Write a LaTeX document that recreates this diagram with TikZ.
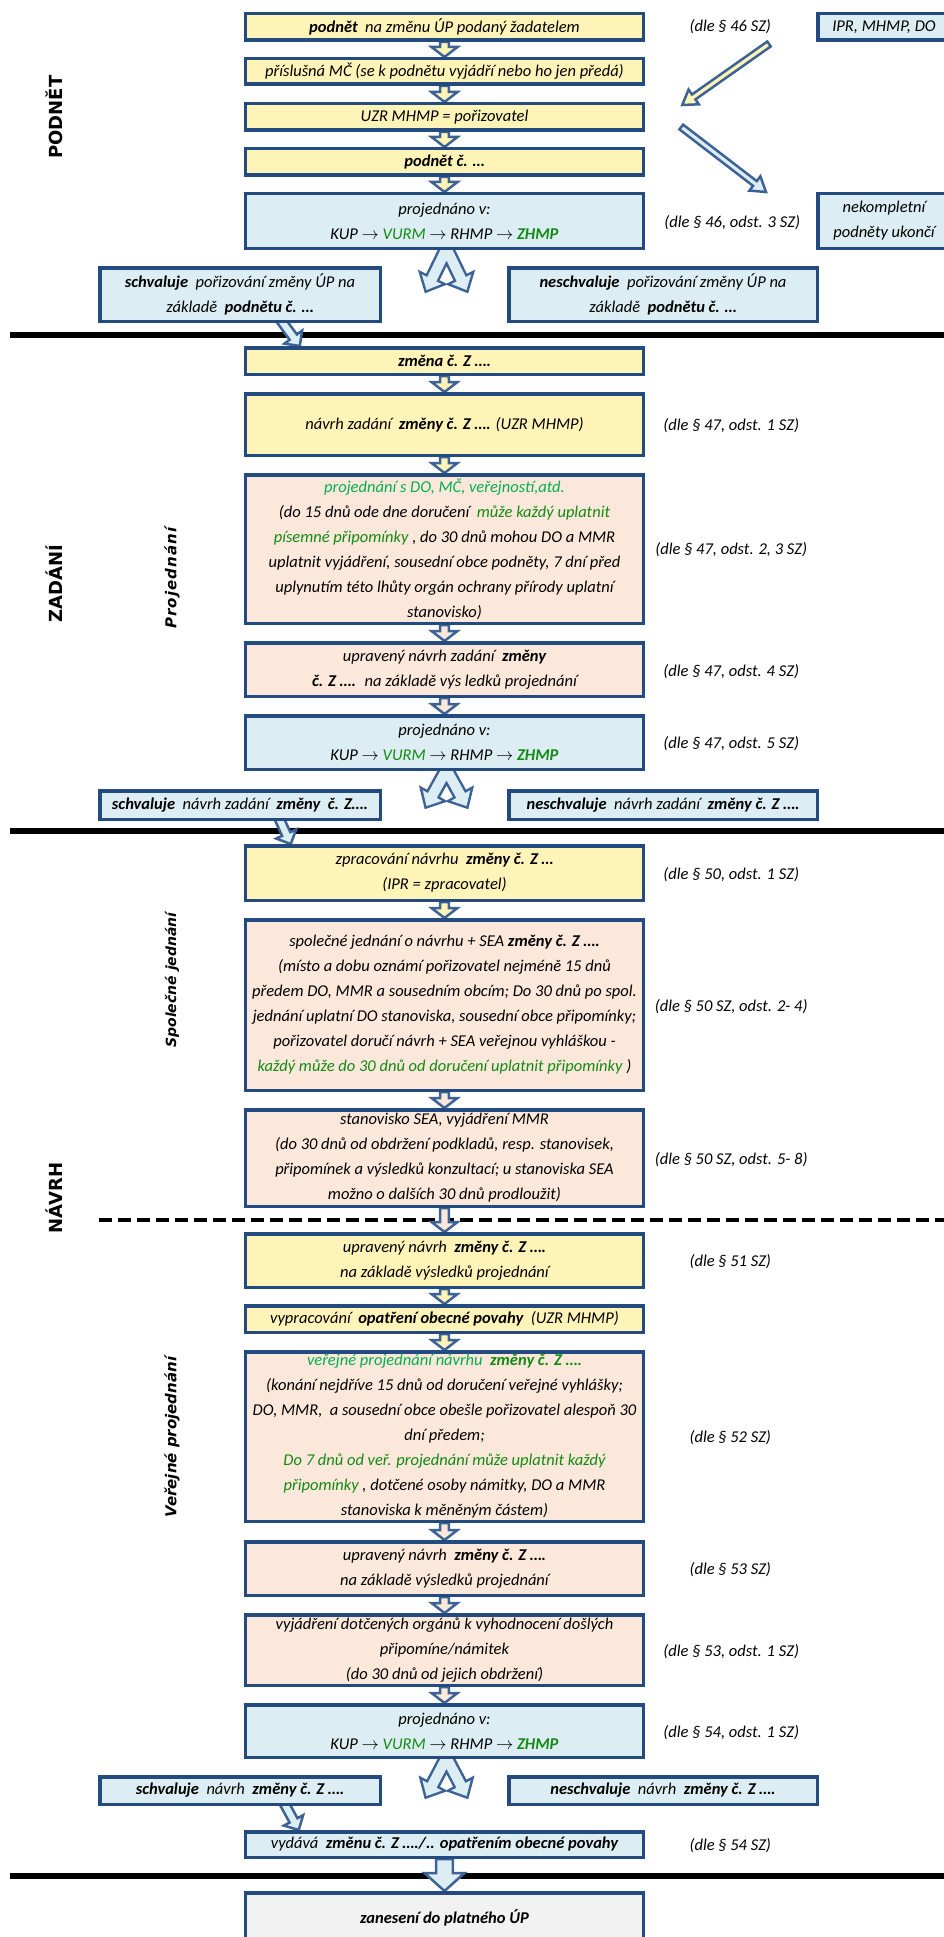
\documentclass[tikz,border=0pt]{standalone}
\usepackage{fontspec}
\setmainfont{Carlito}
\newfontfamily\sidefont{DejaVu Sans}
\usetikzlibrary{calc,backgrounds}

\definecolor{boxline}{HTML}{244B7F}
\definecolor{arrline}{HTML}{3D6396}
\definecolor{yelfill}{HTML}{FFF4B8}
\definecolor{bluefill}{HTML}{DCEEF4}
\definecolor{peachfill}{HTML}{FCE8DA}
\definecolor{grayfill}{HTML}{F2F2F2}
\definecolor{grn}{HTML}{00B050}
\definecolor{dgrn}{HTML}{138A13}

\newcommand{\gr}[1]{\textcolor{grn}{#1}}
\newcommand{\dg}[1]{\textcolor{dgrn}{#1}}
\newcommand{\ra}{$\rightarrow$}
\newcommand{\projtext}{projednáno v:\\KUP \ra{} \dg{VURM} \ra{} RHMP \ra{} \textbf{\dg{ZHMP}}}

\tikzset{
  box/.style={draw=boxline, line width=3.5pt, minimum width=398pt,
    inner xsep=2pt, inner ysep=1pt, align=center,
    font=\itshape\fontsize{16.5}{25}\selectfont},
  ybox/.style={box, fill=yelfill},
  bbox/.style={box, fill=bluefill},
  obox/.style={box, fill=peachfill},
  gbox/.style={box, fill=grayfill},
  note/.style={align=center, font=\itshape\fontsize{16.5}{25}\selectfont},
  phase/.style={rotate=90, font=\sidefont\bfseries\fontsize{18}{20}\selectfont},
  subphase/.style={rotate=90, font=\sidefont\bfseries\itshape\fontsize{15}{18}\selectfont},
  sepline/.style={line width=6pt},
  arr/.style={draw=arrline, line width=2.5pt, line join=miter},
  splitarr/.style={fill=bluefill, preaction={draw=arrline, line width=5pt, line join=miter}},
  blk/.style n args={3}{to path={
      ($(\tikztostart)!#1pt!90:(\tikztotarget)$)
   -- ($(\tikztotarget)!#3pt!(\tikztostart)!#1pt!-90:(\tikztostart)$)
   -- ($(\tikztotarget)!#3pt!(\tikztostart)!#2pt!-90:(\tikztostart)$)
   -- (\tikztotarget)
   -- ($(\tikztotarget)!#3pt!(\tikztostart)!#2pt!90:(\tikztostart)$)
   -- ($(\tikztotarget)!#3pt!(\tikztostart)!#1pt!90:(\tikztostart)$)
   -- ($(\tikztostart)!#1pt!-90:(\tikztotarget)$) -- cycle}},
}

\begin{document}
\begin{tikzpicture}[x=1pt,y=-1pt]
    \useasboundingbox (0,0) rectangle (944,1937);
    %% Podnet
    \node[ybox, minimum height=26.5pt] (pod) at (444.5,27) {\textbf{podnět} \ na změnu ÚP podaný žadatelem};
    \node[ybox, minimum height=25.5pt] (mc) at (444.5,71.5) {příslušná MČ (se k podnětu vyjádří nebo ho jen předá)};
    \node[ybox, minimum height=26.5pt] (uzr) at (444.5,117) {UZR MHMP = pořizovatel};
    \node[ybox, minimum height=26.5pt] (podc) at (444.5,162) {\textbf{podnět č. …}};
    \node[bbox, minimum height=54.5pt] (proj1) at (444.5,221) {\projtext};
    \node[bbox, minimum width=280.5pt, minimum height=53.5pt] (sch1) at (240,294.5)
        {\textbf{schvaluje} \ pořizování změny ÚP na\\základě \ \textbf{podnětu č. …}};
    \node[bbox, minimum width=308.5pt, minimum height=53.5pt] (nsch1) at (663,294.5)
        {\textbf{neschvaluje} \ pořizování změny ÚP na\\základě \ \textbf{podnětu č. …}};
    \node[bbox, minimum width=132.5pt, minimum height=26.5pt] (ipr) at (884,27) {IPR, MHMP, DO};
    \node[bbox, minimum width=132.5pt, minimum height=54.5pt] (nek) at (884,221) {nekompletní\\podněty ukončí};
    \node[note] (d1) at ($(pod.east)+(85,0)$) {(dle § 46 SZ)};
    \node[note] (d2) at ($(proj1.east)+(87,2)$) {(dle § 46, odst. 3 SZ)};
    \node[phase] (lpod) at (54,117) {PODNĚT};

    %% Zadani
    \node[ybox, minimum height=26.5pt] (zm) at (444.5,361) {\textbf{změna č. Z ….}};
    \node[ybox, minimum height=61.5pt] (zn) at (444.5,424.5) {návrh zadání \ \textbf{změny č. Z ….} (UZR MHMP)};
    \node[obox, minimum height=148.5pt] (zp) at (444.5,549)
        {\gr{projednání s DO, MČ, veřejností,atd.}\\
         (do 15 dnů ode dne doručení \ \dg{může každý uplatnit}\\
         \dg{písemné připomínky} , do 30 dnů mohou DO a MMR\\
         uplatnit vyjádření, sousední obce podněty, 7 dní před\\
         uplynutím této lhůty orgán ochrany přírody uplatní\\
         stanovisko)};
    \node[obox, minimum height=53.5pt] (zu) at (444.5,669.5)
        {upravený návrh zadání \ \textbf{změny}\\\textbf{č. Z ….} \ na základě výs ledků projednání};
    \node[bbox, minimum height=53.5pt] (zpr) at (444.5,742.5) {\projtext};
    \node[bbox, minimum width=280.5pt, minimum height=28.5pt] (sch2) at (240,805)
        {\textbf{schvaluje} \ návrh zadání \ \textbf{změny \ č. Z….}};
    \node[bbox, minimum width=308.5pt, minimum height=28.5pt] (nsch2) at (663,805)
        {\textbf{neschvaluje} \ návrh zadání \ \textbf{změny č. Z ….}};
    \node[note] (d3) at ($(zn.east)+(86,1)$) {(dle § 47, odst. 1 SZ)};
    \node[note] (d4) at ($(zp.east)+(86,1)$) {(dle § 47, odst. 2, 3 SZ)};
    \node[note] (d5) at ($(zu.east)+(86,2)$) {(dle § 47, odst. 4 SZ)};
    \node[note] (d6) at ($(zpr.east)+(86,1)$) {(dle § 47, odst. 5 SZ)};
    \node[phase] (lzad) at (54,584) {ZADÁNÍ};
    \node[subphase] (lproj) at (172,578) {\addfontfeatures{LetterSpace=7}Projednání};

    %% Navrh
    \node[ybox, minimum height=54.5pt] (nz) at (444.5,873)
        {zpracování návrhu \ \textbf{změny č. Z …}\\(IPR = zpracovatel)};
    \node[obox, minimum height=170.5pt] (ns) at (444.5,1005)
        {společné jednání o návrhu + SEA \textbf{změny č. Z ….}\\
         (místo a dobu oznámí pořizovatel nejméně 15 dnů\\
         předem DO, MMR a sousedním obcím; Do 30 dnů po spol.\\
         jednání uplatní DO stanoviska, sousední obce připomínky;\\
         pořizovatel doručí návrh + SEA veřejnou vyhláškou -\\
         \dg{každý může do 30 dnů od doručení uplatnit připomínky} )};
    \node[obox, minimum height=96.5pt] (nst) at (444.5,1158)
        {stanovisko SEA, vyjádření MMR\\
         (do 30 dnů od obdržení podkladů, resp. stanovisek,\\
         připomínek a výsledků konzultací; u stanoviska SEA\\
         možno o dalších 30 dnů prodloužit)};
    \node[ybox, minimum height=53.5pt] (nu) at (444.5,1260.5)
        {upravený návrh \ \textbf{změny č. Z ….}\\na základě výsledků projednání};
    \node[ybox, minimum height=26.5pt] (nv) at (444.5,1319)
        {vypracování \ \textbf{opatření obecné povahy} \ (UZR MHMP)};
    \node[obox, minimum height=169.5pt] (nver) at (444.5,1436.5)
        {\gr{veřejné projednání návrhu} \ \textbf{\dg{změny č. Z ….}}\\
         (konání nejdříve 15 dnů od doručení veřejné vyhlášky;\\
         DO, MMR, \ a sousední obce obešle pořizovatel alespoň 30\\
         dní předem;\\
         \dg{Do 7 dnů od veř. projednání může uplatnit každý}\\
         \dg{připomínky} , dotčené osoby námitky, DO a MMR\\
         stanoviska k měněným částem)};
    \node[obox, minimum height=53.5pt] (nu2) at (444.5,1568.5)
        {upravený návrh \ \textbf{změny č. Z ….}\\na základě výsledků projednání};
    \node[obox, minimum height=70.5pt] (nvy) at (444.5,1650)
        {vyjádření dotčených orgánů k vyhodnocení došlých\\
         připomíne/námitek\\
         (do 30 dnů od jejich obdržení)};
    \node[bbox, minimum height=52.5pt] (npr) at (444.5,1731) {\projtext};
    \node[bbox, minimum width=280.5pt, minimum height=27.5pt] (sch3) at (240,1790.5)
        {\textbf{schvaluje} \ návrh \ \textbf{změny č. Z ….}};
    \node[bbox, minimum width=308.5pt, minimum height=27.5pt] (nsch3) at (663,1790.5)
        {\textbf{neschvaluje} \ návrh \ \textbf{změny č. Z ….}};
    \node[bbox, minimum height=25.5pt] (vyd) at (444.5,1844.5)
        {vydává \ \textbf{změnu č. Z …./.. opatřením obecné povahy}};
    \node[gbox, minimum height=50.5pt] (zan) at (444.5,1918) {\textbf{zanesení do platného ÚP}};
    \node[note] (d7) at ($(nz.east)+(86,2)$) {(dle § 50, odst. 1 SZ)};
    \node[note] (d8) at ($(ns.east)+(86,2)$) {(dle § 50 SZ, odst. 2- 4)};
    \node[note] (d9) at ($(nst.east)+(86,2)$) {(dle § 50 SZ, odst. 5- 8)};
    \node[note] (d10) at ($(nu.east)+(85,1)$) {(dle § 51 SZ)};
    \node[note] (d11) at ($(nver.east)+(85,1)$) {(dle § 52 SZ)};
    \node[note] (d12) at ($(nu2.east)+(85,1)$) {(dle § 53 SZ)};
    \node[note] (d13) at ($(nvy.east)+(86,2)$) {(dle § 53, odst. 1 SZ)};
    \node[note] (d14) at ($(npr.east)+(86,2)$) {(dle § 54, odst. 1 SZ)};
    \node[note] (d15) at ($(vyd.east)+(85,1)$) {(dle § 54 SZ)};
    \node[phase] (lnav) at (54,1198) {NÁVRH};
    \node[subphase, font=\sidefont\bfseries\itshape\fontsize{14}{18}\selectfont] (lspol) at (172,980) {Společné jednání};
    \node[subphase] (lver) at (172,1437) {Veřejné projednání};

    %% Free ends of the bent arrows
    \coordinate (ipr-out) at ($(ipr.south west)+(-47,2)$);
    \coordinate (uzr-in) at ($(uzr.east)+(37,-12)$);
    \coordinate (uzr-out) at ($(uzr.east)+(36,10)$);
    \coordinate (nek-in) at ($(nek.north west)+(-50,0)$);
    \coordinate (sp1) at ($(proj1.south)+(2,-1)$);
    \coordinate (sp1l) at ($(proj1.south)+(-18,40)$);
    \coordinate (sp1r) at ($(proj1.south)+(22,40)$);
    \coordinate (sp2) at ($(zpr.south)+(2,-1)$);
    \coordinate (sp2l) at ($(zpr.south)+(-18,35)$);
    \coordinate (sp2r) at ($(zpr.south)+(22,35)$);
    \coordinate (sp3) at ($(npr.south)+(2,-1)$);
    \coordinate (sp3l) at ($(npr.south)+(-18,37)$);
    \coordinate (sp3r) at ($(npr.south)+(22,37)$);
    \coordinate (s1a) at ($(sch1.south)+(40,-4)$);
    \coordinate (s1b) at ($(zm.north west)+(56,0)$);
    \coordinate (s2a) at ($(sch2.south)+(38,-5)$);
    \coordinate (s2b) at ($(nz.north west)+(47,0)$);
    \coordinate (s3a) at ($(sch3.south)+(43,-5)$);
    \coordinate (s3b) at ($(vyd.north west)+(55,0)$);

    \begin{scope}[on background layer]
        %% phase borders
        \draw[sepline] (10,335) -- (960,335);
        \draw[sepline] (10,831) -- (960,831);
        \draw[sepline] (10,1876) -- (960,1876);
        \draw[line width=3.5pt, dash pattern=on 13pt off 6pt] (99,1220) -- (960,1220);
        %% arrows down the column
        \path[arr, fill=yelfill] (pod.south) to[blk={4.3}{13}{10}] (mc.north);
        \path[arr, fill=yelfill] (mc.south) to[blk={4.3}{13}{10}] (uzr.north);
        \path[arr, fill=yelfill] (uzr.south) to[blk={4.3}{13}{10}] (podc.north);
        \path[arr, fill=yelfill] (podc.south) to[blk={4.3}{13}{10}] (proj1.north);
        \path[arr, fill=yelfill] (zm.south) to[blk={4.3}{13}{10}] (zn.north);
        \path[arr, fill=yelfill] (zn.south) to[blk={4.3}{13}{10}] (zp.north);
        \path[arr, fill=peachfill] (zp.south) to[blk={4.3}{13}{10}] (zu.north);
        \path[arr, fill=peachfill] (zu.south) to[blk={4.3}{13}{10}] (zpr.north);
        \path[arr, fill=yelfill] (nz.south) to[blk={4.3}{13}{10}] (ns.north);
        \path[arr, fill=peachfill] (ns.south) to[blk={4.3}{13}{10}] (nst.north);
        \path[arr, fill=peachfill] (nst.south) to[blk={4.3}{13}{10}] (nu.north);
        \path[arr, fill=yelfill] (nu.south) to[blk={4.3}{13}{10}] (nv.north);
        \path[arr, fill=yelfill] (nv.south) to[blk={4.3}{13}{10}] (nver.north);
        \path[arr, fill=peachfill] (nver.south) to[blk={4.3}{13}{10}] (nu2.north);
        \path[arr, fill=peachfill] (nu2.south) to[blk={4.3}{13}{10}] (nvy.north);
        \path[arr, fill=peachfill] (nvy.south) to[blk={4.3}{13}{10}] (npr.north);
        \path[arr, fill=bluefill] (vyd.south) to[blk={8.3}{20}{18}] (zan.north);
        %% side arrows
        \path[arr, fill=yelfill] (ipr-out) to[blk={3}{9}{14}] (uzr-in);
        \path[arr, fill=bluefill] (uzr-out) to[blk={3}{9}{14}] (nek-in);
        %% decisions
        \path[splitarr] (sp1) to[blk={5}{11}{12}] (sp1l) (sp1) to[blk={5}{11}{12}] (sp1r);
        \path[splitarr] (sp2) to[blk={5}{11}{12}] (sp2l) (sp2) to[blk={5}{11}{12}] (sp2r);
        \path[splitarr] (sp3) to[blk={5}{11}{12}] (sp3l) (sp3) to[blk={5}{11}{12}] (sp3r);
        \path[arr, fill=bluefill] (s1a) to[blk={4.5}{11}{11}] (s1b);
        \path[arr, fill=bluefill] (s2a) to[blk={4.5}{11}{11}] (s2b);
        \path[arr, fill=bluefill] (s3a) to[blk={4.5}{11}{11}] (s3b);
    \end{scope}
\end{tikzpicture}
\end{document}
